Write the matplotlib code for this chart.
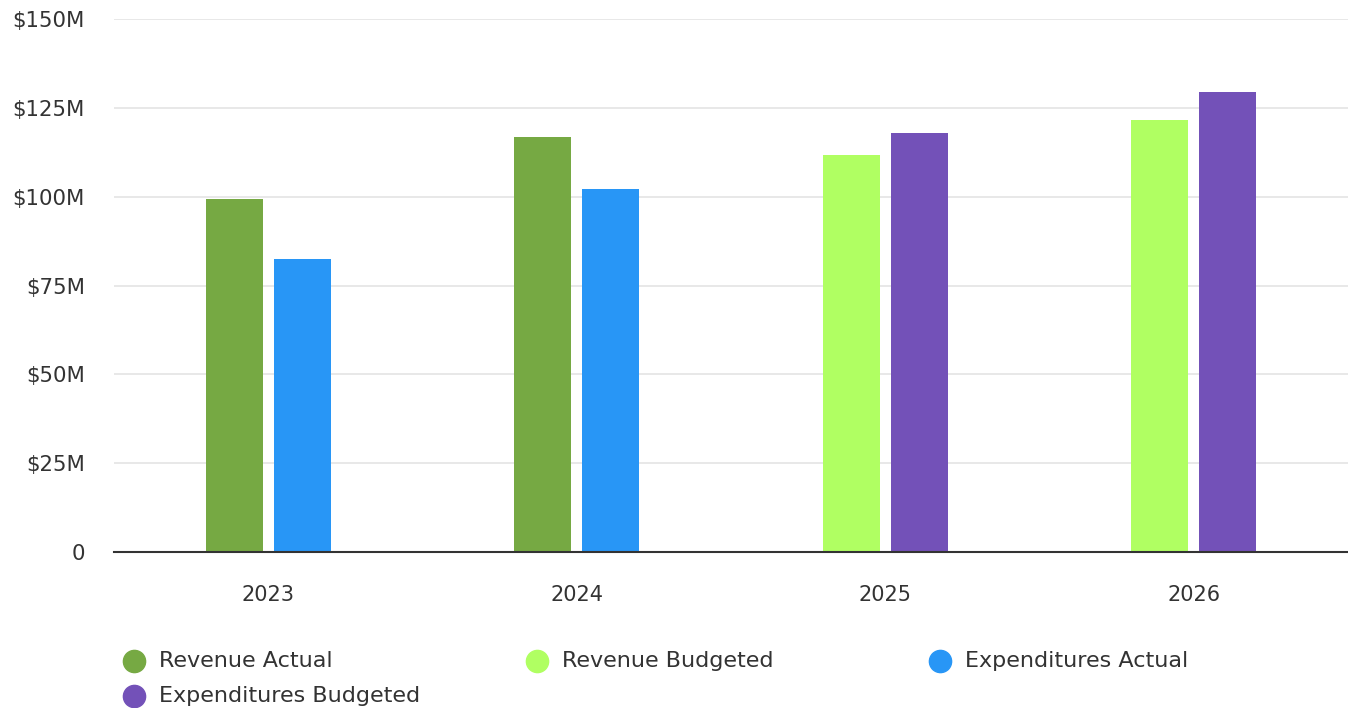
import numpy as np
import matplotlib.pyplot as plt
from matplotlib.lines import Line2D

plt.rcParams['font.family'] = ['DejaVu Sans']

# datos (millones de dolares), None = sin dato para ese anio
years = ['2023', '2024', '2025', '2026']
revenue_actual = [99.3, 116.8, None, None]
revenue_budgeted = [None, None, 111.7, 121.6]
exp_actual = [82.5, 102.2, None, None]
exp_budgeted = [None, None, 117.9, 129.5]

series_names = ['Revenue Actual', 'Revenue Budgeted', 'Expenditures Actual', 'Expenditures Budgeted']
series_vals = [revenue_actual, revenue_budgeted, exp_actual, exp_budgeted]
colores = ['#76a943', '#b0ff62', '#2896f6', '#7351b8']
# orden de las barras dentro de cada grupo
orden = [0, 2, 1, 3]

ticks = [0, 25, 50, 75, 100, 125, 150]
tick_labels = ['0', '$25M', '$50M', '$75M', '$100M', '$125M', '$150M']

fig = plt.figure(figsize=(13.48, 7.08), dpi=100)
ax = fig.add_axes([0.0846, 0.2203, 0.9154, 0.7529])

ancho = 0.185
hueco = 0.036
for i, y in enumerate(years):
    presentes = [s for s in orden if series_vals[s][i] is not None]
    n = len(presentes)
    total = n * ancho + (n - 1) * hueco
    x0 = i - total / 2 + ancho / 2
    for k, s in enumerate(presentes):
        ax.bar(x0 + k * (ancho + hueco), series_vals[s][i], width=ancho, color=colores[s], zorder=3)

ax.set_xlim(-0.5, len(years) - 0.5)
ax.set_ylim(0, 150)
ax.set_xticks(range(len(years)))
ax.set_xticklabels(years, fontsize=15, color='#333333')
ax.set_yticks(ticks)
ax.set_yticklabels(tick_labels, fontsize=15.3, color='#333333')
ax.tick_params(axis='both', length=0)
ax.tick_params(axis='x', pad=24)
ax.tick_params(axis='y', pad=21)
ax.grid(axis='y', color='#e6e6e6', linewidth=1.3, zorder=0)
for lado in ['top', 'right', 'left']:
    ax.spines[lado].set_visible(False)
ax.spines['bottom'].set_color('#333333')
ax.spines['bottom'].set_linewidth(1.5)
ax.spines['bottom'].set_zorder(4)

# leyenda a mano, 3 columnas
for j, nombre in enumerate(series_names):
    col = j % 3
    fila = j // 3
    xm = 0.0994 + col * 0.299
    ym = 1 - (661 + fila * 35) / 708
    fig.add_artist(Line2D([xm], [ym], marker='o', markersize=16, color=colores[j],
                          linestyle='none', transform=fig.transFigure))
    fig.text(xm + 0.0186, ym, nombre, fontsize=16, color='#333333', va='center', ha='left')

fig.savefig('out.png', dpi=100)
